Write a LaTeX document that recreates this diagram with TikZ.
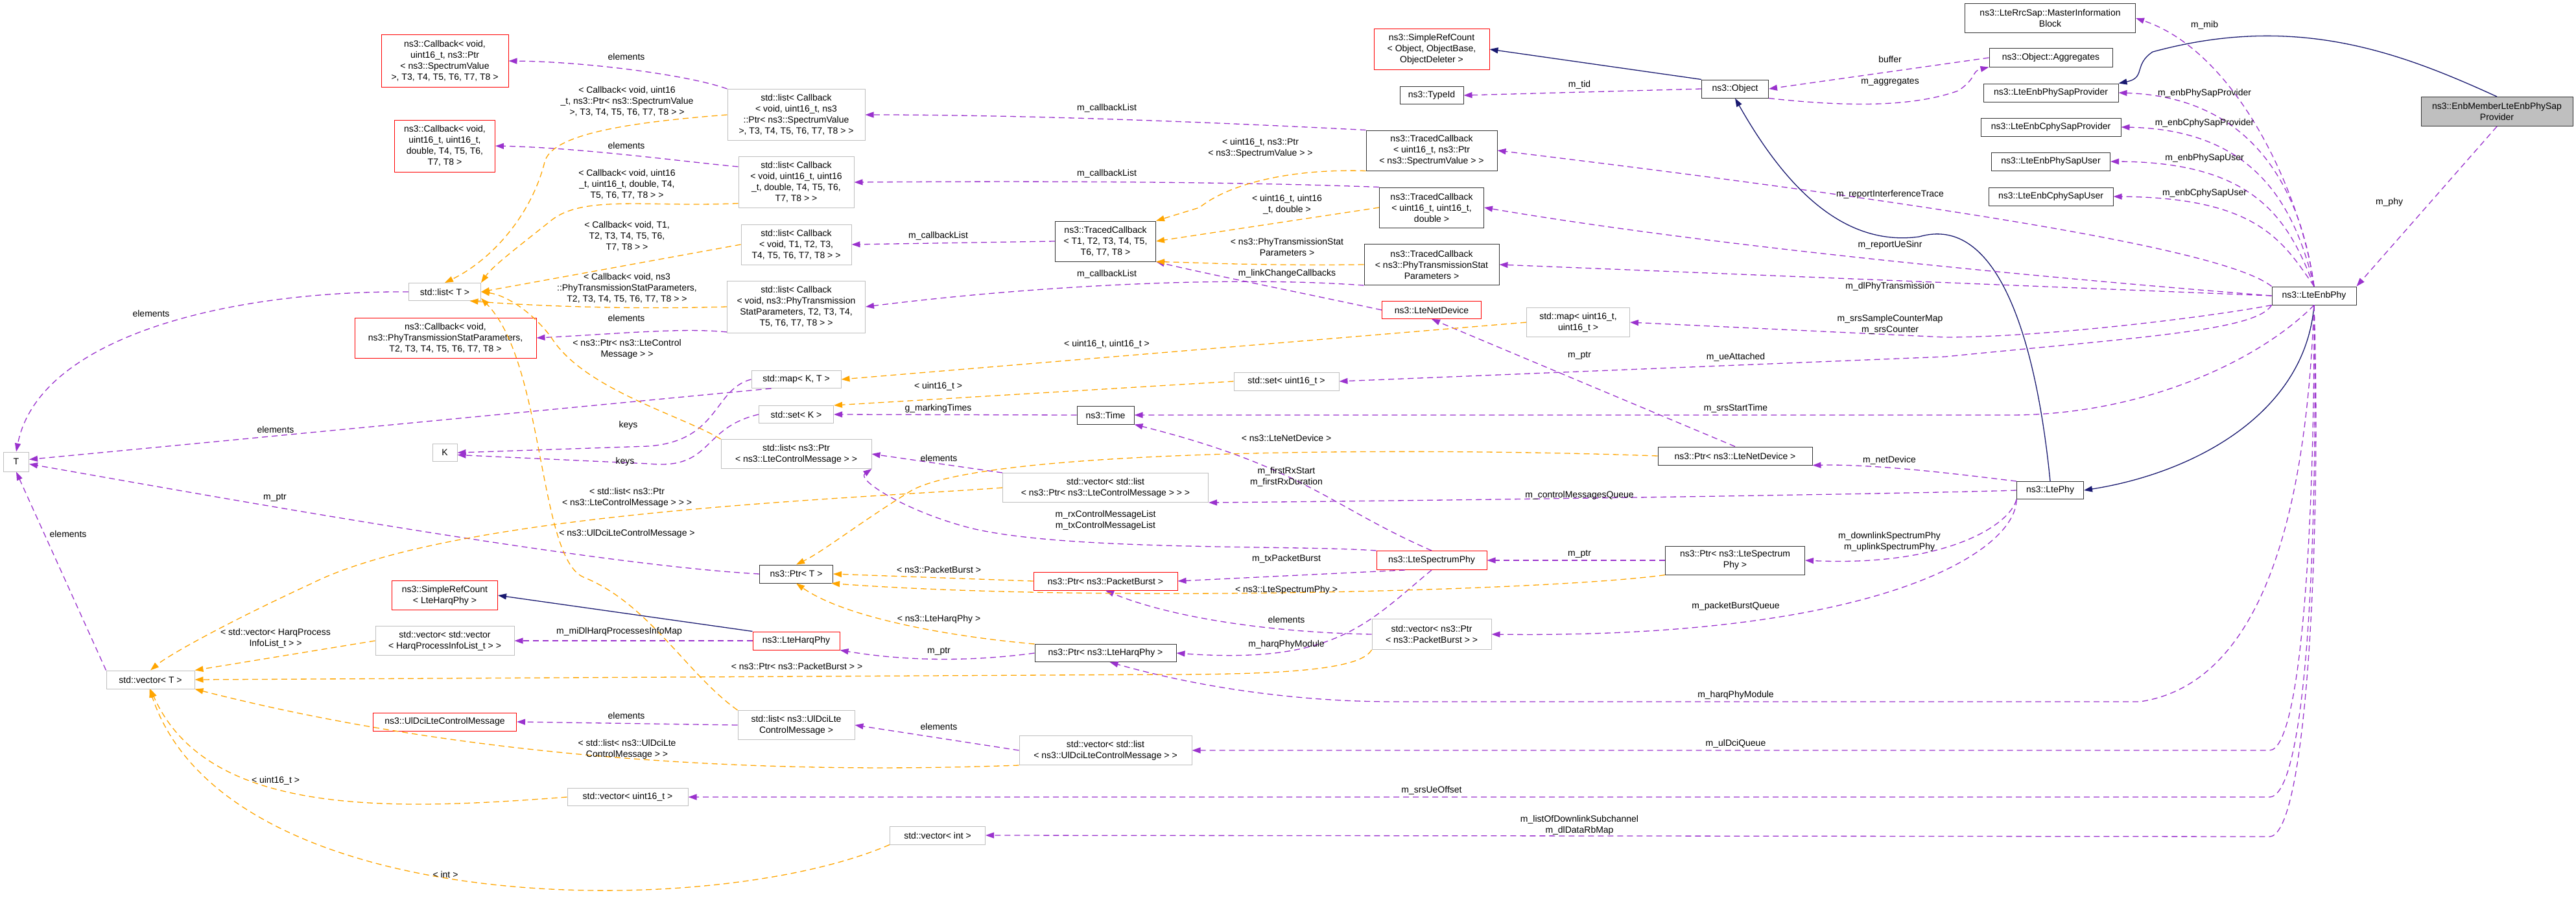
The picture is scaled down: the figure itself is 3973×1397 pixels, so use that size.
\documentclass[tikz,border=0pt]{standalone}
\usepackage{fontspec}
\setmainfont{Liberation Sans}
\usepackage{tikz}
\usetikzlibrary{arrows.meta}
\definecolor{usecol}{HTML}{9A32CD}
\definecolor{tplcol}{HTML}{FFA500}
\definecolor{inhcol}{HTML}{191970}
\definecolor{boxgray}{HTML}{BFBFBF}

\begin{document}
\begin{tikzpicture}[x=1pt, y=-1pt, font=\fontsize{14}{17}\selectfont,
cls/.style = {draw, rectangle, align=center, inner sep=2pt, line width=1pt},
grayc/.style = {cls, draw=boxgray},
redc/.style = {cls, draw=red},
blackc/.style = {cls, draw=black!80},
mainc/.style = {cls, draw=black!80, fill=boxgray},
wd/.style = {minimum width=#1pt},
ht/.style = {minimum height=#1pt},
lbl/.style = {align=center, inner sep=0pt},
use/.style = {draw=usecol, dash pattern=on 9pt off 6pt, line width=1.3pt, -{Triangle[length=13pt,width=9pt]}},
tpl/.style = {draw=tplcol, dash pattern=on 9pt off 6pt, line width=1.3pt, -{Triangle[length=13pt,width=9pt]}},
inh/.style = {draw=inhcol, line width=1.3pt, -{Triangle[length=13pt,width=9pt]}}]
\useasboundingbox (0,0) rectangle (3973,1397);

% left column
\node[redc, wd=196, ht=80] (cbSpec) at (686,94) {ns3::Callback< void,\\ uint16\_t, ns3::Ptr\\< ns3::SpectrumValue\\>, T3, T4, T5, T6, T7, T8 >};
\node[redc, wd=155, ht=80] (cbU16) at (686,225) {ns3::Callback< void,\\uint16\_t, uint16\_t,\\double, T4, T5, T6,\\T7, T8 >};
\node[grayc, wd=111, ht=27] (listT) at (686,450) {std::list< T >};
\node[redc, wd=280, ht=62] (cbPhy) at (687,521) {ns3::Callback< void,\\ns3::PhyTransmissionStatParameters,\\T2, T3, T4, T5, T6, T7, T8 >};
\node[grayc, wd=38, ht=27] (K) at (686,698) {K};
\node[grayc, wd=39, ht=30] (T) at (25,712) {T};
\node[redc, wd=163, ht=45] (srcHarq) at (686,918) {ns3::SimpleRefCount\\< LteHarqPhy >};
\node[grayc, wd=214, ht=45] (vecVec) at (686,988) {std::vector< std::vector\\< HarqProcessInfoList\_t > >};
\node[grayc, wd=136, ht=28] (vecT) at (232,1048) {std::vector< T >};
\node[redc, wd=221, ht=28] (ulDci) at (686,1113) {ns3::UlDciLteControlMessage};
\node[grayc, wd=186, ht=27] (vecU16) at (968,1229) {std::vector< uint16\_t >};

% second column
\node[grayc, wd=212, ht=79] (listCbSpec) at (1228,177) {std::list< Callback\\< void, uint16\_t, ns3\\::Ptr< ns3::SpectrumValue\\>, T3, T4, T5, T6, T7, T8 > >};
\node[grayc, wd=178, ht=79] (listCbU16) at (1228,281) {std::list< Callback\\< void, uint16\_t, uint16\\\_t, double, T4, T5, T6,\\T7, T8 > >};
\node[grayc, wd=170, ht=62] (listCbT) at (1228,377) {std::list< Callback\\< void, T1, T2, T3,\\T4, T5, T6, T7, T8 > >};
\node[grayc, wd=213, ht=80] (listCbPhy) at (1228,473) {std::list< Callback\\< void, ns3::PhyTransmission\\StatParameters, T2, T3, T4,\\T5, T6, T7, T8 > >};
\node[grayc, wd=138, ht=27] (mapKT) at (1228,585) {std::map< K, T >};
\node[grayc, wd=115, ht=27] (setK) at (1228,639) {std::set< K >};
\node[grayc, wd=232, ht=45] (listPtrCtrl) at (1228,700) {std::list< ns3::Ptr\\< ns3::LteControlMessage > >};
\node[blackc, wd=113, ht=28] (ptrT) at (1228,885) {ns3::Ptr< T >};
\node[redc, wd=134, ht=28] (lteHarq) at (1228,988) {ns3::LteHarqPhy};
\node[grayc, wd=180, ht=45] (listUlDci) at (1228,1118) {std::list< ns3::UlDciLte\\ControlMessage >};
\node[grayc, wd=147, ht=28] (vecInt) at (1446,1288) {std::vector< int >};

% third column
\node[blackc, wd=155, ht=62] (tcT) at (1705,372) {ns3::TracedCallback\\< T1, T2, T3, T4, T5,\\T6, T7, T8 >};
\node[blackc, wd=88, ht=28] (time) at (1705,640) {ns3::Time};
\node[grayc, wd=317, ht=45] (vecListPtr) at (1705,752) {std::vector< std::list\\< ns3::Ptr< ns3::LteControlMessage > > >};
\node[redc, wd=222, ht=28] (ptrPB) at (1705,896) {ns3::Ptr< ns3::PacketBurst >};
\node[blackc, wd=218, ht=27] (ptrHarq) at (1705,1007) {ns3::Ptr< ns3::LteHarqPhy >};
\node[grayc, wd=266, ht=45] (vecListUlDci) at (1705,1157) {std::vector< std::list\\< ns3::UlDciLteControlMessage > >};
\node[grayc, wd=162, ht=28] (setU16) at (1984,588) {std::set< uint16\_t >};

% fourth column
\node[redc, wd=178, ht=62] (srcObj) at (2208,76) {ns3::SimpleRefCount\\< Object, ObjectBase,\\ObjectDeleter >};
\node[blackc, wd=98, ht=27] (typeId) at (2208,147) {ns3::TypeId};
\node[blackc, wd=202, ht=62] (tcSpec) at (2208,232) {ns3::TracedCallback\\< uint16\_t, ns3::Ptr\\< ns3::SpectrumValue > >};
\node[blackc, wd=161, ht=62] (tcU16) at (2208,320) {ns3::TracedCallback\\< uint16\_t, uint16\_t,\\double >};
\node[blackc, wd=208, ht=63] (tcPhy) at (2208,408) {ns3::TracedCallback\\< ns3::PhyTransmissionStat\\Parameters >};
\node[redc, wd=153, ht=27] (netDev) at (2208,478) {ns3::LteNetDevice};
\node[redc, wd=170, ht=29] (specPhy) at (2208,864) {ns3::LteSpectrumPhy};
\node[grayc, wd=184, ht=47] (vecPtrPB) at (2208,978) {std::vector< ns3::Ptr\\< ns3::PacketBurst > >};
\node[grayc, wd=159, ht=45] (mapU16) at (2434,497) {std::map< uint16\_t,\\uint16\_t >};
\node[blackc, wd=103, ht=28] (object) at (2676,137) {ns3::Object};
\node[blackc, wd=238, ht=28] (ptrNetDev) at (2676,703) {ns3::Ptr< ns3::LteNetDevice >};
\node[blackc, wd=215, ht=44] (ptrSpec) at (2676,864) {ns3::Ptr< ns3::LteSpectrum\\Phy >};

% right side
\node[blackc, wd=263, ht=45] (mib) at (3162,28) {ns3::LteRrcSap::MasterInformation\\Block};
\node[blackc, wd=190, ht=28] (aggr) at (3163,89) {ns3::Object::Aggregates};
\node[blackc, wd=208, ht=28] (sapProv) at (3163,143) {ns3::LteEnbPhySapProvider};
\node[blackc, wd=216, ht=28] (cphyProv) at (3163,196) {ns3::LteEnbCphySapProvider};
\node[blackc, wd=183, ht=28] (sapUser) at (3163,249) {ns3::LteEnbPhySapUser};
\node[blackc, wd=192, ht=28] (cphyUser) at (3163,303) {ns3::LteEnbCphySapUser};
\node[blackc, wd=103, ht=27] (ltePhy) at (3162,756) {ns3::LtePhy};
\node[blackc, wd=130, ht=28] (enbPhy) at (3569,456) {ns3::LteEnbPhy};
\node[mainc, wd=234, ht=45] (member) at (3851,172) {ns3::EnbMemberLteEnbPhySap\\Provider};

% inheritance
\draw[inh] (object.north west) -- (srcObj.east);
\draw[inh] (lteHarq.north west) -- (srcHarq.east);
\draw[inh] (ltePhy.north) .. controls (3140,520) and (3080,330) .. (2960,365) .. controls (2850,380) and (2760,300) .. (object.south);
\draw[inh] (enbPhy.south) .. controls (3555,640) and (3380,730) .. (ltePhy.east);
\draw[inh] (member.north) .. controls (3700,80) and (3540,20) .. (3320,80) .. controls (3290,100) and (3310,120) .. (sapProv.north east);

% usage, left part
\draw[use] (listCbSpec.north west) .. controls (1060,115) and (900,95) .. (cbSpec.east);
\draw[use] (listCbU16.165) .. controls (1060,250) and (900,228) .. (cbU16.east);
\draw[use] (listT.west) .. controls (350,448) and (60,520) .. (T.north);
\draw[use] (listCbPhy.200) .. controls (1050,505) and (950,515) .. (cbPhy.east);
\draw[use] (mapKT.200) -- (T.10);
\draw[use] (mapKT.west) .. controls (1100,600) and (1110,680) .. (1000,688) -- (K.east);
\draw[use] (setK.west) .. controls (1080,660) and (1100,725) .. (1000,715) -- (K.-10);
\draw[use] (ptrT.west) .. controls (900,870) and (300,760) .. (T.-10);
\draw[use] (vecT.north west) -- (T.south);
\draw[use] (lteHarq.west) -- (vecVec.east);
\draw[use] (listUlDci.west) -- (ulDci.east);
\draw[use] (tcSpec.north west) .. controls (1900,190) and (1600,177) .. (listCbSpec.east);
\draw[use] (tcU16.north west) .. controls (1900,280) and (1600,279) .. (listCbU16.east);
\draw[use] (tcT.west) -- (listCbT.east);
\draw[use] (tcPhy.south west) .. controls (1900,425) and (1600,440) .. (listCbPhy.east);
\draw[use] (netDev.west) .. controls (2000,450) and (1850,420) .. (tcT.south east);
\draw[use] (time.west) -- (setK.east);
\draw[use] (vecListPtr.north west) -- (listPtrCtrl.east);
\draw[use] (specPhy.north west) .. controls (2000,840) and (1650,850) .. (1500,815) .. controls (1400,790) and (1320,740) .. (listPtrCtrl.south east);
\draw[use] (specPhy.north) .. controls (2050,780) and (2010,720) .. (time.south east);
\draw[use] (specPhy.200) -- (ptrPB.east);
\draw[use] (vecPtrPB.west) .. controls (1950,975) and (1800,950) .. (ptrPB.south);
\draw[use] (specPhy.south) .. controls (2110,960) and (2060,1025) .. (ptrHarq.east);
\draw[use] (ptrHarq.west) .. controls (1500,1020) and (1400,1020) .. (lteHarq.south east);
\draw[use] (vecListUlDci.west) -- (listUlDci.east);

% usage, right part
\draw[use] (object.west) -- (typeId.east);
\draw[use] (aggr.west) -- (object.east);
\draw[use] (object.south east) .. controls (2850,165) and (2950,165) .. (3020,140) .. controls (3050,120) and (3040,110) .. (aggr.south west);
\draw[use] (ptrNetDev.north) -- (netDev.south);
\draw[use] (ptrSpec.west) -- (specPhy.east);
\draw[use] (member.south) -- (enbPhy.north east);
\draw[use] (enbPhy.north) .. controls (3550,300) and (3450,80) .. (mib.east);
\draw[use] (enbPhy.north) .. controls (3550,300) and (3480,150) .. (sapProv.east);
\draw[use] (enbPhy.north) .. controls (3540,320) and (3480,200) .. (cphyProv.east);
\draw[use] (enbPhy.north) .. controls (3530,340) and (3480,250) .. (sapUser.east);
\draw[use] (enbPhy.north) .. controls (3520,370) and (3480,305) .. (cphyUser.east);
\draw[use] (enbPhy.north west) .. controls (3450,400) and (3200,340) .. (tcSpec.east);
\draw[use] (enbPhy.west) .. controls (3300,440) and (2700,390) .. (tcU16.east);
\draw[use] (enbPhy.west) -- (tcPhy.east);
\draw[use] (enbPhy.south west) .. controls (3400,490) and (3150,520) .. (3000,520) -- (mapU16.east);
\draw[use] (enbPhy.south west) .. controls (3480,510) and (3300,520) .. (3000,550) -- (setU16.east);
\draw[use] (enbPhy.south) .. controls (3480,560) and (3300,640) .. (3100,640) -- (time.east);
\draw[use] (enbPhy.south) .. controls (3560,700) and (3520,1050) .. (3300,1082) -- (2150,1082) .. controls (2000,1082) and (1850,1060) .. (ptrHarq.-65);
\draw[use] (enbPhy.south) .. controls (3570,800) and (3550,1157) .. (3500,1157) -- (vecListUlDci.east);
\draw[use] (enbPhy.south) .. controls (3575,800) and (3560,1229) .. (3500,1229) -- (vecU16.east);
\draw[use] (enbPhy.south) .. controls (3580,800) and (3560,1290) .. (3500,1290) -- (vecInt.east);
\draw[use] (ltePhy.north west) .. controls (3050,735) and (2900,715) .. (ptrNetDev.south east);
\draw[use] (ltePhy.west) .. controls (3000,760) and (2400,770) .. (vecListPtr.south east);
\draw[use] (ltePhy.south west) .. controls (3100,810) and (3000,874) .. (ptrSpec.east);
\draw[use] (ltePhy.south west) .. controls (3110,850) and (2900,985) .. (vecPtrPB.east);

% templates
\draw[tpl] (listCbSpec.west) .. controls (950,190) and (850,210) .. (840,250) .. controls (820,330) and (760,400) .. (listT.north);
\draw[tpl] (listCbU16.200) .. controls (1000,320) and (900,300) .. (850,340) .. controls (800,380) and (760,410) .. (listT.north east);
\draw[tpl] (listCbT.west) -- (listT.east);
\draw[tpl] (listCbPhy.west) .. controls (950,478) and (800,470) .. (listT.-20);
\draw[tpl] (listPtrCtrl.north west) .. controls (1050,640) and (900,600) .. (850,520) .. controls (820,480) and (780,455) .. (listT.east);
\draw[tpl] (listUlDci.north west) .. controls (1060,1040) and (1000,930) .. (900,890) .. controls (830,860) and (840,560) .. (listT.-10);
\draw[tpl] (vecVec.west) -- (vecT.north east);
\draw[tpl] (vecListPtr.west) .. controls (1300,770) and (700,790) .. (480,900) .. controls (350,960) and (260,1010) .. (vecT.north);
\draw[tpl] (vecPtrPB.south west) .. controls (2100,1030) and (2000,1040) .. (1800,1040) -- (vecT.east);
\draw[tpl] (vecListUlDci.south west) .. controls (1300,1190) and (800,1190) .. (vecT.south east);
\draw[tpl] (vecU16.west) .. controls (600,1250) and (320,1260) .. (vecT.south);
\draw[tpl] (vecInt.south west) .. controls (1100,1420) and (350,1420) .. (vecT.-95);
\draw[tpl] (mapU16.west) -- (mapKT.east);
\draw[tpl] (setU16.west) -- (setK.north east);
\draw[tpl] (ptrNetDev.west) .. controls (2200,690) and (1500,690) .. (1400,760) .. controls (1320,810) and (1270,850) .. (ptrT.north);
\draw[tpl] (ptrPB.west) -- (ptrT.east);
\draw[tpl] (ptrSpec.south west) .. controls (2400,910) and (1700,930) .. (ptrT.-15);
\draw[tpl] (ptrHarq.north west) .. controls (1450,980) and (1300,950) .. (ptrT.south);
\draw[tpl] (tcSpec.south west) .. controls (2000,260) and (1900,280) .. (1850,320) -- (tcT.north east);
\draw[tpl] (tcU16.west) -- (tcT.east);
\draw[tpl] (tcPhy.west) .. controls (1950,410) and (1850,405) .. (tcT.south east);

% labels
\node[lbl] (l01) at (966,87) {elements};
\node[lbl] (l02) at (966,224) {elements};
\node[lbl] (l03) at (233,483) {elements};
\node[lbl] (l04) at (966,490) {elements};
\node[lbl] (l05) at (425,662) {elements};
\node[lbl] (l06) at (969,656) {keys};
\node[lbl] (l07) at (964,712) {keys};
\node[lbl] (l08) at (424,767) {m\_ptr};
\node[lbl] (l09) at (105,823) {elements};
\node[lbl] (l10) at (955,974) {m\_miDlHarqProcessesInfoMap};
\node[lbl] (l11) at (966,1103) {elements};
\node[lbl] (l12) at (967,156) {< Callback< void, uint16\\\_t, ns3::Ptr< ns3::SpectrumValue\\>, T3, T4, T5, T6, T7, T8 > >};
\node[lbl] (l13) at (967,284) {< Callback< void, uint16\\\_t, uint16\_t, double, T4,\\T5, T6, T7, T8 > >};
\node[lbl] (l14) at (967,364) {< Callback< void, T1,\\T2, T3, T4, T5, T6,\\T7, T8 > >};
\node[lbl] (l15) at (967,444) {< Callback< void, ns3\\::PhyTransmissionStatParameters,\\T2, T3, T4, T5, T6, T7, T8 > >};
\node[lbl] (l16) at (967,538) {< ns3::Ptr< ns3::LteControl\\Message > >};
\node[lbl] (l17) at (967,767) {< std::list< ns3::Ptr\\< ns3::LteControlMessage > > >};
\node[lbl] (l18) at (967,823) {< ns3::UlDciLteControlMessage >};
\node[lbl] (l19) at (425,984) {< std::vector< HarqProcess\\InfoList\_t > >};
\node[lbl] (l20) at (967,1155) {< std::list< ns3::UlDciLte\\ControlMessage > >};
\node[lbl] (l21) at (425,1204) {< uint16\_t >};
\node[lbl] (l22) at (687,1348) {< int >};
\node[lbl] (l23) at (1707,167) {m\_callbackList};
\node[lbl] (l24) at (1707,268) {m\_callbackList};
\node[lbl] (l25) at (1447,364) {m\_callbackList};
\node[lbl] (l26) at (1707,423) {m\_callbackList};
\node[lbl] (l27) at (1707,531) {< uint16\_t, uint16\_t >};
\node[lbl] (l28) at (1447,596) {< uint16\_t >};
\node[lbl] (l29) at (1447,630) {g\_markingTimes};
\node[lbl] (l30) at (1448,706) {elements};
\node[lbl] (l31) at (1705,802) {m\_rxControlMessageList\\m\_txControlMessageList};
\node[lbl] (l32) at (1448,878) {< ns3::PacketBurst >};
\node[lbl] (l33) at (1448,955) {< ns3::LteHarqPhy >};
\node[lbl] (l34) at (1448,1004) {m\_ptr};
\node[lbl] (l35) at (1229,1027) {< ns3::Ptr< ns3::PacketBurst > >};
\node[lbl] (l36) at (1448,1120) {elements};
\node[lbl] (l37) at (1984,675) {< ns3::LteNetDevice >};
\node[lbl] (l38) at (1984,735) {m\_firstRxStart\\m\_firstRxDuration};
\node[lbl] (l39) at (1984,862) {m\_txPacketBurst};
\node[lbl] (l40) at (1984,910) {< ns3::LteSpectrumPhy >};
\node[lbl] (l41) at (1984,955) {elements};
\node[lbl] (l42) at (1984,994) {m\_harqPhyModule};
\node[lbl] (l43) at (1944,228) {< uint16\_t, ns3::Ptr\\< ns3::SpectrumValue > >};
\node[lbl] (l44) at (1985,315) {< uint16\_t, uint16\\\_t, double >};
\node[lbl] (l45) at (1985,381) {< ns3::PhyTransmissionStat\\Parameters >};
\node[lbl] (l46) at (1985,422) {m\_linkChangeCallbacks};
\node[lbl] (l47) at (2436,131) {m\_tid};
\node[lbl] (l48) at (2915,91) {buffer};
\node[lbl] (l49) at (2915,126) {m\_aggregates};
\node[lbl] (l50) at (2915,300) {m\_reportInterferenceTrace};
\node[lbl] (l51) at (2915,378) {m\_reportUeSinr};
\node[lbl] (l52) at (2915,442) {m\_dlPhyTransmission};
\node[lbl] (l53) at (2915,500) {m\_srsSampleCounterMap\\m\_srsCounter};
\node[lbl] (l54) at (2436,548) {m\_ptr};
\node[lbl] (l55) at (2677,551) {m\_ueAttached};
\node[lbl] (l56) at (2677,630) {m\_srsStartTime};
\node[lbl] (l57) at (3400,39) {m\_mib};
\node[lbl] (l58) at (3400,144) {m\_enbPhySapProvider};
\node[lbl] (l59) at (3400,190) {m\_enbCphySapProvider};
\node[lbl] (l60) at (3400,244) {m\_enbPhySapUser};
\node[lbl] (l61) at (3400,298) {m\_enbCphySapUser};
\node[lbl] (l62) at (3685,312) {m\_phy};
\node[lbl] (l63) at (2914,710) {m\_netDevice};
\node[lbl] (l64) at (2436,764) {m\_controlMessagesQueue};
\node[lbl] (l65) at (2914,835) {m\_downlinkSpectrumPhy\\m\_uplinkSpectrumPhy};
\node[lbl] (l66) at (2436,854) {m\_ptr};
\node[lbl] (l67) at (2677,935) {m\_packetBurstQueue};
\node[lbl] (l68) at (2677,1072) {m\_harqPhyModule};
\node[lbl] (l69) at (2677,1147) {m\_ulDciQueue};
\node[lbl] (l70) at (2208,1219) {m\_srsUeOffset};
\node[lbl] (l71) at (2436,1272) {m\_listOfDownlinkSubchannel\\m\_dlDataRbMap};
\end{tikzpicture}
\end{document}
